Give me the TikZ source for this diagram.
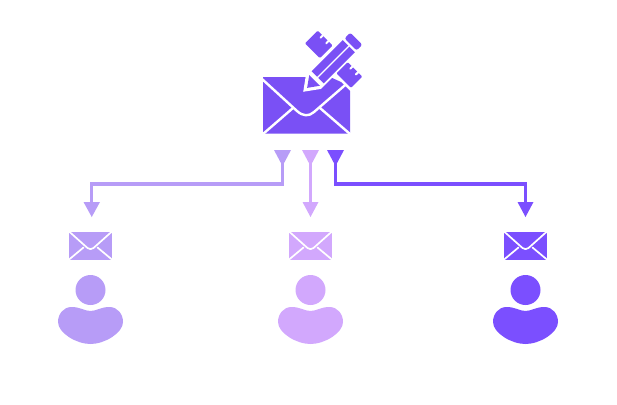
\documentclass[tikz,border=0pt]{standalone}
\definecolor{mainp}{HTML}{7A50F5}
\definecolor{leftp}{HTML}{B79CF7}
\definecolor{midp}{HTML}{D2A8FD}
\definecolor{rightp}{HTML}{7B4FFF}
\tikzset{
  wire/.style={line width=3.1pt},
  gap/.style={draw=white,line width=1.7pt,line cap=round,line join=round},
  biggap/.style={draw=white,line width=2.4pt,line cap=round,line join=round},
  person/.pic={
    \fill[pic actions] (0,-15) circle (15);
    \fill[pic actions] (-19,2) .. controls (-10,2) and (-6,6) .. (0,6)
      .. controls (6,6) and (10,2) .. (19,2)
      .. controls (27,2) and (32.5,9) .. (32.5,17)
      .. controls (32.5,28) and (14,39) .. (0,39)
      .. controls (-14,39) and (-32.5,28) .. (-32.5,17)
      .. controls (-32.5,9) and (-27,2) .. (-19,2) -- cycle;
  },
  mail/.pic={
    \fill[pic actions] (-21.5,-14) -- (21.5,-14) -- (21.5,14) -- (-21.5,14) -- cycle;
    \draw[gap] (-22,-14.5) -- (-3,2.5) .. controls (-1,4) and (1,4) .. (3,2.5) -- (22,-14.5);
    \draw[gap] (-22,14.5) -- (-7,2);
    \draw[gap] (22,14.5) -- (7,2);
  }
}
\begin{document}
\begin{tikzpicture}[x=1pt,y=-1pt]
\useasboundingbox (0,0) rectangle (617,404);
% main envelope
\fill[mainp] (263,77) -- (330,77) -- (341,82) -- (350,91) -- (350,133.5) -- (263,133.5) -- cycle;
\draw[biggap] (262,79) -- (297,111) .. controls (303,116.5) and (309,116.5) .. (314,112) -- (351,80);
\draw[biggap] (263,134) -- (293,108);
\draw[biggap] (350,134) -- (320,108);
% pencil and ruler
\begin{scope}[shift={(305,90)},rotate=45]
  % white halo cut into the envelope
  \fill[white] (-2.5,0) -- (12,-10.5) -- (62,-10.5) -- (62,10.5) -- (12,10.5) -- cycle;
  % ruler halves
  \fill[mainp,rounded corners=1pt] (34,10.5) -- (50,10.5) -- (50,31) -- (34,31) -- cycle;
  \fill[mainp,rounded corners=1pt] (33,-12) -- (51,-12) -- (51,-33) -- (33,-33) -- cycle;
  \draw[draw=white,line width=2pt,line cap=round]
    (51,17) -- (47,17) (51,25) -- (47,25)
    (52,-18) -- (48,-18) (52,-26) -- (48,-26);
  % pencil
  \fill[mainp] (18,-8.5) -- (62,-8.5) -- (62,-0.8) -- (18,-0.8) -- cycle;
  \fill[mainp] (18,0.8) -- (62,0.8) -- (62,8.5) -- (18,8.5) -- cycle;
  \fill[mainp,rounded corners=2pt] (64.5,-8.5) -- (72.5,-8.5) -- (72.5,8.5) -- (64.5,8.5) -- cycle;
  \fill[mainp] (3,0) -- (13.5,-7.5) -- (13.5,7.5) -- cycle;
\end{scope}
% funnels and connectors
\coordinate (srcL) at (282.5,160);
\coordinate (srcM) at (310.5,160);
\coordinate (srcR) at (335.5,160);
\coordinate (dstL) at (91.5,204);
\coordinate (dstM) at (310.5,204);
\coordinate (dstR) at (525.5,204);
\draw[wire,leftp] (srcL) |- (dstL |- 0,184) -- (dstL);
\draw[wire,midp] (srcM) -- (dstM);
\draw[wire,rightp] (srcR) |- (dstR |- 0,184) -- (dstR);
\fill[leftp] (274,150) -- (291,150) -- (282.5,166) -- cycle;
\fill[midp] (302,150) -- (319,150) -- (310.5,166) -- cycle;
\fill[rightp] (327,150) -- (344,150) -- (335.5,166) -- cycle;
\fill[leftp] (83.5,202) -- (100,202) -- (91.75,217) -- cycle;
\fill[midp] (302.5,202) -- (318.5,202) -- (310.5,217) -- cycle;
\fill[rightp] (517.5,202) -- (533.5,202) -- (525.5,217) -- cycle;
% receivers
\pic[leftp] at (90.5,245.5) {mail};
\pic[midp] at (310.5,245.5) {mail};
\pic[rightp] at (525.5,245.5) {mail};
\pic[leftp] at (90.5,305) {person};
\pic[midp] at (310.5,305) {person};
\pic[rightp] at (525.5,305) {person};
\end{tikzpicture}
\end{document}
